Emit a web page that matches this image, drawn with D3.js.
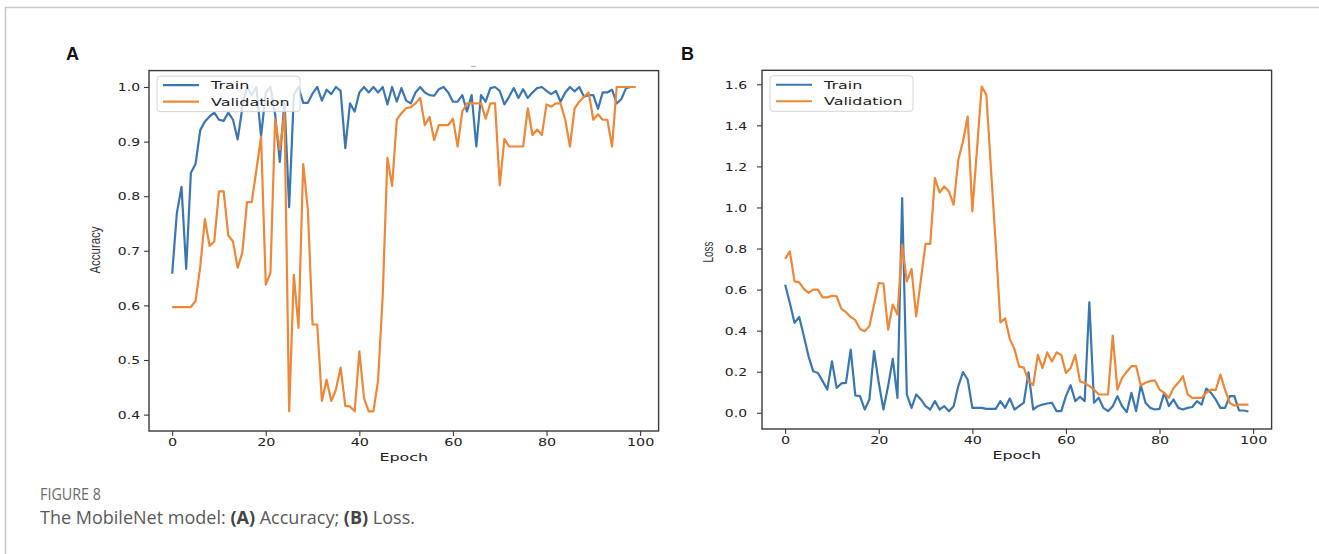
<!DOCTYPE html>
<html>
<head>
<meta charset="utf-8">
<script src="https://cdn.jsdelivr.net/npm/d3@7"></script>
<style>
  html, body { margin: 0; padding: 0; background: #fff; }
  svg { display: block; }
</style>
</head>
<body>
<svg id="fig" width="1319" height="554"></svg>
<script>
// ---- data: MobileNet training history, 100 epochs ----
const epochs = d3.range(100);

const accTrain = [
  0.658, 0.769, 0.817, 0.667, 0.843, 0.859, 0.921, 0.937, 0.946, 0.953,
  0.940, 0.938, 0.953, 0.940, 0.904, 0.962, 1.000, 0.985, 1.000, 0.909,
  0.990, 1.000, 0.950, 0.863, 0.975, 0.780, 0.985, 1.000, 0.971, 0.971,
  0.988, 1.000, 0.975, 0.995, 0.987, 1.000, 0.993, 0.888, 0.970, 0.955,
  0.990, 1.000, 0.990, 1.000, 0.990, 1.000, 0.968, 1.000, 0.973, 0.998,
  0.975, 0.970, 0.990, 1.000, 0.990, 0.985, 0.984, 0.996, 1.000, 0.990,
  0.973, 0.973, 0.985, 0.955, 0.985, 0.891, 0.985, 0.973, 0.998, 1.000,
  0.993, 0.968, 0.982, 0.998, 0.980, 0.996, 0.980, 0.990, 0.998, 1.000,
  0.993, 0.987, 0.993, 0.973, 0.990, 1.000, 0.992, 1.000, 0.982, 0.985,
  0.985, 0.960, 0.990, 0.990, 0.995, 0.970, 0.978, 0.998, 1.000, 1.000
];

const accVal = [
  0.597, 0.597, 0.597, 0.597, 0.597, 0.608, 0.671, 0.758, 0.709, 0.717,
  0.809, 0.809, 0.728, 0.717, 0.669, 0.697, 0.789, 0.789, 0.848, 0.909,
  0.638, 0.659, 0.940, 0.885, 0.952, 0.406, 0.656, 0.559, 0.859, 0.775,
  0.565, 0.565, 0.425, 0.464, 0.425, 0.446, 0.486, 0.416, 0.415, 0.406,
  0.516, 0.430, 0.406, 0.406, 0.462, 0.620, 0.870, 0.819, 0.940, 0.952,
  0.961, 0.963, 0.970, 0.980, 0.930, 0.945, 0.903, 0.930, 0.930, 0.930,
  0.942, 0.891, 0.955, 0.970, 0.970, 0.970, 0.970, 0.942, 0.970, 0.970,
  0.820, 0.905, 0.891, 0.891, 0.891, 0.891, 0.961, 0.912, 0.922, 0.912,
  0.968, 0.964, 0.970, 0.970, 0.940, 0.891, 0.961, 0.973, 0.982, 0.990,
  0.940, 0.950, 0.940, 0.940, 0.891, 1.000, 1.000, 1.000, 1.000, 1.000
];

const lossTrain = [
  0.624, 0.535, 0.438, 0.467, 0.373, 0.275, 0.202, 0.194, 0.154, 0.113,
  0.251, 0.121, 0.143, 0.146, 0.308, 0.084, 0.081, 0.016, 0.065, 0.300,
  0.146, 0.016, 0.130, 0.263, 0.073, 1.046, 0.089, 0.024, 0.089, 0.065,
  0.032, 0.016, 0.057, 0.016, 0.032, 0.008, 0.032, 0.130, 0.198, 0.162,
  0.024, 0.024, 0.024, 0.019, 0.019, 0.019, 0.057, 0.024, 0.070, 0.016,
  0.032, 0.050, 0.197, 0.016, 0.032, 0.040, 0.045, 0.049, 0.008, 0.008,
  0.081, 0.134, 0.057, 0.078, 0.057, 0.538, 0.049, 0.073, 0.024, 0.008,
  0.032, 0.081, 0.032, 0.003, 0.097, 0.008, 0.134, 0.049, 0.024, 0.016,
  0.019, 0.097, 0.032, 0.065, 0.024, 0.016, 0.024, 0.028, 0.057, 0.040,
  0.118, 0.097, 0.065, 0.024, 0.024, 0.081, 0.081, 0.011, 0.011, 0.006
];

const lossVal = [
  0.750, 0.786, 0.640, 0.635, 0.603, 0.584, 0.600, 0.600, 0.562, 0.562,
  0.570, 0.567, 0.506, 0.490, 0.467, 0.451, 0.408, 0.397, 0.422, 0.527,
  0.632, 0.629, 0.405, 0.527, 0.478, 0.819, 0.640, 0.700, 0.470, 0.647,
  0.823, 0.823, 1.143, 1.073, 1.102, 1.078, 1.013, 1.232, 1.321, 1.443,
  0.981, 1.285, 1.589, 1.548, 1.180, 0.820, 0.440, 0.460, 0.360, 0.310,
  0.225, 0.220, 0.155, 0.135, 0.282, 0.218, 0.294, 0.250, 0.294, 0.282,
  0.194, 0.218, 0.282, 0.153, 0.145, 0.130, 0.113, 0.089, 0.089, 0.089,
  0.376, 0.113, 0.170, 0.200, 0.227, 0.227, 0.133, 0.146, 0.154, 0.158,
  0.113, 0.097, 0.073, 0.121, 0.146, 0.178, 0.090, 0.073, 0.073, 0.073,
  0.097, 0.113, 0.110, 0.186, 0.113, 0.048, 0.035, 0.040, 0.040, 0.040
];

const epochTicks = [0, 20, 40, 60, 80, 100];
const accTicks = [0.4, 0.5, 0.6, 0.7, 0.8, 0.9, 1.0];
const lossTicks = [0.0, 0.2, 0.4, 0.6, 0.8, 1.0, 1.2, 1.4, 1.6];
const seriesNames = ["Train", "Validation"];
const seriesColors = ["#3a77b2", "#ef8737"];

const svg = d3.select("#fig");
const TXT = "#222";
const SPINE = "#3a3a3a";

// outer figure frame (top and left rule)
svg.append("path")
  .attr("d", "M5.5,554 L5.5,7.5 L1319,7.5")
  .attr("fill", "none").attr("stroke", "#c8c8c8").attr("stroke-width", 1.5);

// draw one training-history panel
function drawPanel(cfg) {
  const g = svg.append("g");
  const x = d3.scaleLinear().domain([-4.95, 103.95]).range([cfg.left, cfg.right]);
  const y = d3.scaleLinear().domain(cfg.ylim).range([cfg.bottom, cfg.top]);

  // data lines
  const line = d3.line().x((d, i) => x(epochs[i])).y(d => y(d));
  [cfg.train, cfg.val].forEach((series, k) => {
    g.append("path")
      .datum(series)
      .attr("d", line)
      .attr("fill", "none")
      .attr("stroke", seriesColors[k])
      .attr("stroke-width", 2.2)
      .attr("stroke-linejoin", "round");
  });

  // frame
  g.append("rect")
    .attr("x", cfg.left).attr("y", cfg.top)
    .attr("width", cfg.right - cfg.left).attr("height", cfg.bottom - cfg.top)
    .attr("fill", "none").attr("stroke", SPINE).attr("stroke-width", 1.4);

  // y axis
  const ya = g.append("g").attr("transform", `translate(${cfg.left},0)`)
    .call(d3.axisLeft(y).tickValues(cfg.yticks).tickSize(5).tickPadding(cfg.ypad).tickFormat(d3.format(".1f")));
  ya.select(".domain").remove();
  ya.selectAll(".tick line").attr("stroke", SPINE).attr("stroke-width", 1.1);
  ya.selectAll(".tick text").each(function () {
    const t = d3.select(this);
    const tx = +t.attr("x");
    t.attr("x", 0).attr("dy", "0.36em")
      .attr("transform", `translate(${tx},0) scale(1.34,1)`)
      .attr("fill", TXT).attr("font-size", 10.4)
      .attr("font-family", "DejaVu Sans, sans-serif");
  });

  // x axis
  const xa = g.append("g").attr("transform", `translate(0,${cfg.bottom})`)
    .call(d3.axisBottom(x).tickValues(epochTicks).tickSize(5).tickPadding(3).tickFormat(d3.format("d")));
  xa.select(".domain").remove();
  xa.selectAll(".tick line").attr("stroke", SPINE).attr("stroke-width", 1.1);
  xa.selectAll(".tick text").each(function () {
    const t = d3.select(this);
    const ty = +t.attr("y");
    t.attr("y", 0)
      .attr("transform", `translate(0,${ty}) scale(1.38,1)`)
      .attr("fill", TXT).attr("font-size", 10.4)
      .attr("font-family", "DejaVu Sans, sans-serif");
  });

  // axis titles
  g.append("text")
    .attr("transform", `translate(${(cfg.left + cfg.right) / 2},${cfg.bottom + 30}) scale(1.42,1)`)
    .attr("text-anchor", "middle")
    .attr("font-family", "DejaVu Sans, sans-serif").attr("font-size", 11.2)
    .attr("fill", TXT).text("Epoch");

  g.append("text")
    .attr("transform", `translate(${cfg.ylabelX},${cfg.ylabelY}) rotate(-90)`)
    .attr("text-anchor", "middle")
    .attr("font-family", "Liberation Sans, Arial, sans-serif").attr("font-size", 15.5)
    .attr("textLength", cfg.ylabelLen).attr("lengthAdjust", "spacingAndGlyphs")
    .attr("fill", "#333").text(cfg.ylabel);

  // legend
  const lg = g.append("g");
  lg.append("rect")
    .attr("x", cfg.left + 8).attr("y", cfg.top + 5.5)
    .attr("width", 143).attr("height", 35.5).attr("rx", 3)
    .attr("fill", "#fff").attr("fill-opacity", 0.8)
    .attr("stroke", "#d6d6d6").attr("stroke-width", 1);
  seriesNames.forEach((name, k) => {
    const ly = cfg.top + 14.5 + k * 16.5;
    lg.append("line")
      .attr("x1", cfg.left + 14).attr("x2", cfg.left + 50)
      .attr("y1", ly).attr("y2", ly)
      .attr("stroke", seriesColors[k]).attr("stroke-width", 2.1);
    lg.append("text")
      .attr("transform", `translate(${cfg.left + 62},${ly + 4}) scale(1.45,1)`)
      .attr("font-family", "DejaVu Sans, sans-serif").attr("font-size", 11)
      .attr("fill", TXT).text(name);
  });

  // panel letter
  svg.append("text")
    .attr("x", cfg.letterX).attr("y", 60)
    .attr("font-family", "Liberation Sans, Arial, sans-serif")
    .attr("font-weight", "bold").attr("font-size", 18)
    .attr("fill", "#111").text(cfg.letter);
}

drawPanel({
  letter: "A", letterX: 66,
  left: 149, right: 658.6, top: 70.6, bottom: 431,
  ylim: [0.37, 1.03], yticks: accTicks, ypad: 4,
  train: accTrain, val: accVal,
  ylabel: "Accuracy", ylabelX: 100, ylabelY: 250, ylabelLen: 47
});

drawPanel({
  letter: "B", letterX: 681,
  left: 762, right: 1271.6, top: 70.3, bottom: 429,
  ylim: [-0.079, 1.668], yticks: lossTicks, ypad: 10,
  train: lossTrain, val: lossVal,
  ylabel: "Loss", ylabelX: 713, ylabelY: 252, ylabelLen: 21
});

// small tick mark above panel A
svg.append("line")
  .attr("x1", 471).attr("x2", 476).attr("y1", 66.5).attr("y2", 66.5)
  .attr("stroke", "#b5b5b5").attr("stroke-width", 1);

// caption
svg.append("text")
  .attr("x", 40).attr("y", 500)
  .attr("font-family", "Open Sans, sans-serif").attr("font-size", 16)
  .attr("textLength", 61).attr("lengthAdjust", "spacingAndGlyphs")
  .attr("fill", "#6b6b6b").text("FIGURE 8");

const cap = svg.append("text")
  .attr("x", 40).attr("y", 524)
  .attr("font-family", "Open Sans, sans-serif").attr("font-size", 18)
  .attr("textLength", 375).attr("lengthAdjust", "spacingAndGlyphs")
  .attr("fill", "#5a5a5a");
cap.append("tspan").text("The MobileNet model: ");
cap.append("tspan").attr("font-weight", "bold").attr("fill", "#444").text("(A)");
cap.append("tspan").text(" Accuracy; ");
cap.append("tspan").attr("font-weight", "bold").attr("fill", "#444").text("(B)");
cap.append("tspan").text(" Loss.");
</script>
</body>
</html>
